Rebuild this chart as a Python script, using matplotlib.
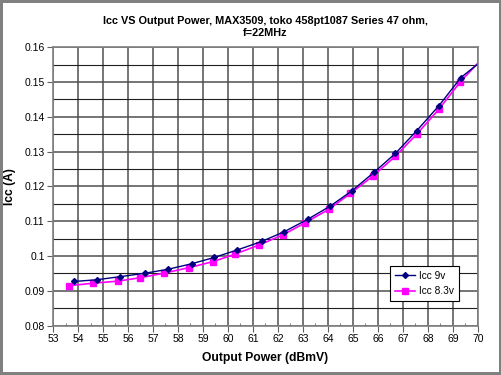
import matplotlib.pyplot as plt
from matplotlib.ticker import MultipleLocator

plt.rcParams['font.family'] = ['Liberation Sans', 'DejaVu Sans']

# output power (dBmV) and supply current (A)
p_9v = [53.84, 54.75, 55.7, 56.7, 57.6, 58.55, 59.45, 60.35, 61.35, 62.25,
        63.2, 64.1, 64.95, 65.85, 66.7, 67.55, 68.44, 69.32, 70.4]
icc_9v = [0.0927, 0.0932, 0.0941, 0.0951, 0.0962, 0.0978, 0.0996, 0.1017, 0.1042, 0.1070,
          0.1106, 0.1144, 0.1187, 0.1241, 0.1295, 0.1360, 0.1432, 0.1513, 0.1575]

p_83v = [53.65, 54.6, 55.6, 56.5, 57.45, 58.45, 59.4, 60.3, 61.25, 62.2,
         63.1, 64.05, 64.9, 65.8, 66.7, 67.55, 68.44, 69.3, 70.4]
icc_83v = [0.0915, 0.0922, 0.0928, 0.0938, 0.0951, 0.0967, 0.0984, 0.1006, 0.1032, 0.1061,
           0.1096, 0.1135, 0.1180, 0.1230, 0.1287, 0.1350, 0.1422, 0.1501, 0.1585]

fig = plt.figure(figsize=(5.02, 3.75), dpi=100)
fig.patch.set_facecolor('white')
fig.patch.set_edgecolor('#808080')
fig.patch.set_linewidth(4)
ax = fig.add_axes([0.1056, 0.1315, 0.8464, 0.7425])

ax.plot(p_83v, icc_83v, color='#FF00FF', marker='s', markersize=5, linewidth=1.2, label='Icc 8.3v')
ax.plot(p_9v, icc_9v, color='#000080', marker='D', markersize=3, linewidth=1.0, label='Icc 9v')

ax.set_xlim(53, 70)
ax.set_ylim(0.08, 0.16)
ax.xaxis.set_major_locator(MultipleLocator(1))
ax.xaxis.set_minor_locator(MultipleLocator(0.5))
ax.yaxis.set_major_locator(MultipleLocator(0.01))
ax.yaxis.set_minor_locator(MultipleLocator(0.005))
ax.set_yticks([0.08, 0.09, 0.1, 0.11, 0.12, 0.13, 0.14, 0.15, 0.16])
ax.set_yticklabels(['0.08', '0.09', '0.1', '0.11', '0.12', '0.13', '0.14', '0.15', '0.16'])

ax.grid(True, which='major', axis='both', color='#505050', linewidth=1.1)
ax.grid(True, which='minor', axis='y', color='#202020', linewidth=0.8)
ax.set_axisbelow(True)
ax.tick_params(axis='both', which='major', labelsize=7.5, length=4, color='#606060',
               direction='out', pad=2)
ax.tick_params(axis='x', which='minor', length=2, direction='in', color='#606060')
ax.tick_params(axis='y', which='minor', length=0)
for s in ax.spines.values():
    s.set_color('#808080')
    s.set_linewidth(1.2)

ax.set_xlabel('Output Power (dBmV)', fontsize=8.7, fontweight='bold', labelpad=6)
ax.set_ylabel('Icc (A)', fontsize=8.7, fontweight='bold')
ax.yaxis.set_label_coords(-0.088, 0.5)
ax.set_title('Icc VS Output Power, MAX3509, toko 458pt1087 Series 47 ohm,\nf=22MHz',
             fontsize=7.8, fontweight='bold', pad=8, linespacing=1.25)

h, l = ax.get_legend_handles_labels()
leg = ax.legend(h[::-1], l[::-1], loc='lower right', bbox_to_anchor=(0.955, 0.089),
                fontsize=7.3, frameon=True, fancybox=False, edgecolor='black',
                framealpha=1, handlelength=2.0, handletextpad=0.4, borderpad=0.45,
                labelspacing=0.55, borderaxespad=0)
leg.get_frame().set_linewidth(0.8)

fig.savefig('out.png', dpi=100, facecolor=fig.get_facecolor(), edgecolor=fig.get_edgecolor())
